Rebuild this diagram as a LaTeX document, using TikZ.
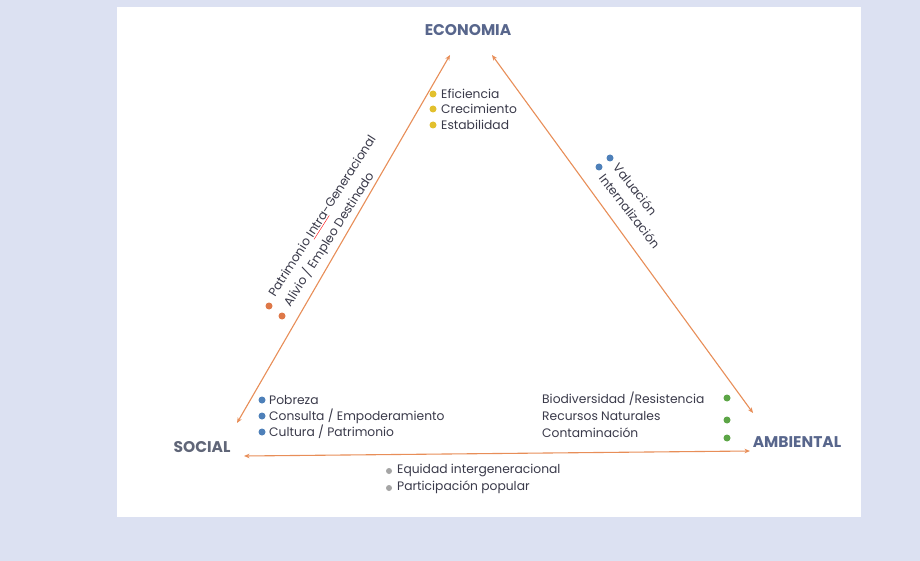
\documentclass[tikz,border=0pt]{standalone}
\usepackage{fontspec}
\setmainfont{Poppins}
\usetikzlibrary{arrows.meta}
\definecolor{bgblue}{RGB}{220,225,242}
\definecolor{lineor}{RGB}{232,142,88}
\definecolor{txt}{RGB}{58,58,74}
\definecolor{hdr}{RGB}{88,102,140}
\definecolor{hdrgray}{RGB}{96,102,120}
\definecolor{byel}{RGB}{226,192,45}
\definecolor{bblue}{RGB}{78,128,185}
\definecolor{bor}{RGB}{222,120,72}
\definecolor{bgreen}{RGB}{92,165,70}
\definecolor{bgray}{RGB}{165,165,165}
\begin{document}
\begin{tikzpicture}[x=1pt,y=-1pt,
  conn/.style={draw=lineor, line width=1.1pt, {Stealth[length=5.5pt,width=4.5pt]}-{Stealth[length=5.5pt,width=4.5pt]}},
  hdrlabel/.style={font=\fontsize{15.5}{15.5}\selectfont\bfseries, text=hdr, inner sep=0},
  item/.style={font=\fontsize{12.3}{14}\selectfont, text=txt, anchor=west, inner sep=0},
  sideitem/.style={font=\fontsize{12.3}{18}\selectfont, text=txt, anchor=west, inner sep=0, align=left},
  dot/.style={circle, inner sep=0, minimum size=7pt}
]
\useasboundingbox (0,0) rectangle (920,561);
\fill[bgblue] (0,0) rectangle (920,561);
\fill[white] (117,7) rectangle (861,517);

% corners of the triangle
\coordinate (Ltop) at (450,55);
\coordinate (Rtop) at (492,55);
\coordinate (Lbot) at (237,423);
\coordinate (Rbot) at (753,413);
\coordinate (Bl) at (244,456);
\coordinate (Br) at (750,451);

\draw[conn] (Lbot) -- (Ltop);
\draw[conn] (Rtop) -- (Rbot);
\draw[conn] (Bl) -- (Br);

% headings
\node[hdrlabel] (eco) at (468,30) {ECONOMIA};
\node[hdrlabel, text=hdrgray] (soc) at (202,447) {SOCIAL};
\node[hdrlabel] (amb) at (797,442) {AMBIENTAL};

% Economia list
\node[dot, fill=byel] (e1d) at (433,94) {};
\node[dot, fill=byel] (e2d) at (433,109) {};
\node[dot, fill=byel] (e3d) at (433,125) {};
\node[item] (e1) at (441,94) {Eficiencia};
\node[item] (e2) at (441,109) {Crecimiento};
\node[item] (e3) at (441,125) {Estabilidad};

% Social list
\node[dot, fill=bblue] (s1d) at (262,400) {};
\node[dot, fill=bblue] (s2d) at (262,416) {};
\node[dot, fill=bblue] (s3d) at (262,432) {};
\node[item] (s1) at (269,400) {Pobreza};
\node[item] (s2) at (269,416) {Consulta / Empoderamiento};
\node[item] (s3) at (269,432) {Cultura / Patrimonio};

% Ambiental list
\node[item] (a1) at (542,399) {Biodiversidad /Resistencia};
\node[item] (a2) at (542,416) {Recursos Naturales};
\node[item] (a3) at (542,433) {Contaminación};
\node[dot, fill=bgreen] (a1d) at (727,398) {};
\node[dot, fill=bgreen] (a2d) at (727,420) {};
\node[dot, fill=bgreen] (a3d) at (727,438) {};

% bottom list
\node[dot, fill=bgray, minimum size=6pt] (b1d) at (389,471) {};
\node[dot, fill=bgray, minimum size=6pt] (b2d) at (389,488) {};
\node[item] (b1) at (397,470) {Equidad intergeneracional};
\node[item] (b2) at (397,487) {Participación popular};

% left side rotated
\node[dot, fill=bor] (l1d) at (269,306) {};
\node[dot, fill=bor] (l2d) at (282,316) {};
\node[sideitem, rotate=57.5] (lside) at (280,301)
  {Patrimonio {\color{red}\underline{\color{txt}Intra}}-Generacional\\Alivio / Empleo Destinado};

% right side rotated
\node[dot, fill=bblue] (r1d) at (599,167) {};
\node[dot, fill=bblue] (r2d) at (610,158) {};
\node[sideitem, rotate=-52] (rside) at (609,170) {Valuación\\Internalización};
\end{tikzpicture}
\end{document}
